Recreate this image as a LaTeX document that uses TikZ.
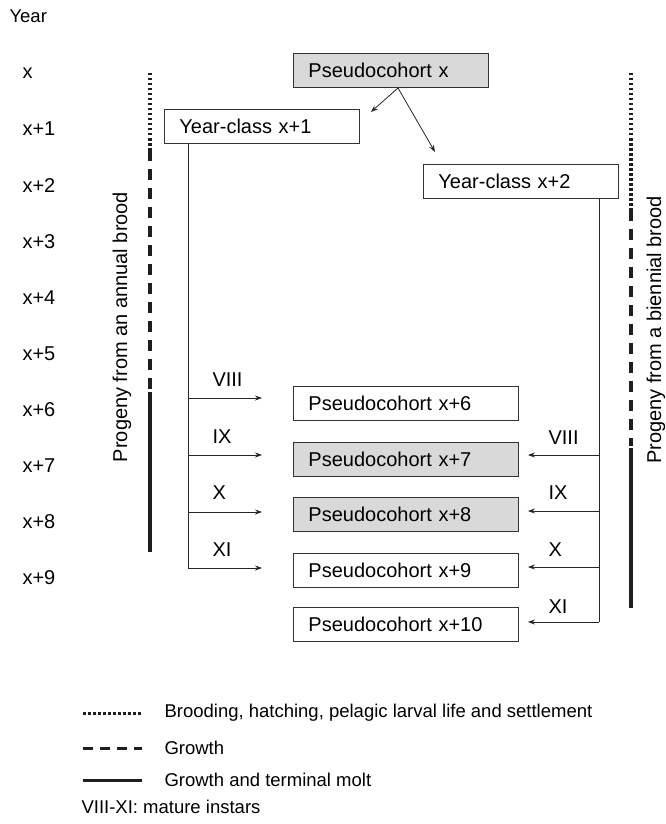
\documentclass[tikz,border=0pt]{standalone}
\usepackage{fontspec}
\setmainfont{Liberation Sans}
\usetikzlibrary{arrows.meta}
\colorlet{boxGray}{black!15}
\colorlet{lineDark}{black!88}

\begin{document}
\begin{tikzpicture}[x=1pt, y=-1pt, font=\fontsize{20}{24}\selectfont,
    narrowbox/.style={draw=black!80, line width=0.9pt, minimum height=34pt,
      inner xsep=15pt, text width=165pt, align=left, anchor=north west},
    widebox/.style={narrowbox, text width=195pt},
    link/.style={line width=0.8pt, draw=black!85, -{Stealth[length=7pt, width=5pt]}},
    stem/.style={line width=0.9pt, draw=black!85},
    brood/.style={line width=3.5pt, draw=lineDark},
    larva/.style={brood, dash pattern=on 2.5pt off 2.5pt},
    growth/.style={brood, dash pattern=on 11pt off 8pt},
    keyfont/.style={font=\fontsize{18.5}{22}\selectfont},
  ]
  \useasboundingbox (0,0) rectangle (665,824);

  % years
  \node[anchor=west, keyfont] (year) at (6,16) {Year};
  \foreach \k/\lab in {0/x, 1/x+1, 2/x+2, 3/x+3, 4/x+4, 5/x+5, 6/x+6, 7/x+7, 8/x+8, 9/x+9}
    \node[anchor=west] (y\k) at (19,{73+56.1*\k}) {\lab};

  % boxes
  \node[narrowbox, fill=boxGray] (pcx) at (293,53) {Pseudocohort x};
  \node[narrowbox] (yc1) at (164,109) {Year-class x+1};
  \node[narrowbox] (yc2) at (423,164) {Year-class x+2};
  \node[widebox] (pc6) at (293,386) {Pseudocohort x+6};
  \node[widebox, fill=boxGray] (pc7) at (293,442) {Pseudocohort x+7};
  \node[widebox, fill=boxGray] (pc8) at (293,497) {Pseudocohort x+8};
  \node[widebox] (pc9) at (293,553) {Pseudocohort x+9};
  \node[widebox] (pc10) at (293,607) {Pseudocohort x+10};

  % from pseudocohort x
  \coordinate (split) at (398,88);
  \draw[link] (split) -- ([shift={(11,3)}]yc1.north east);
  \draw[link] (split) -- ([shift={(12,-12)}]yc2.north west);

  % annual brood
  \coordinate (la6) at (188,398);
  \coordinate (la7) at (188,455);
  \coordinate (la8) at (188,512);
  \coordinate (la9) at (188,568);
  \draw[stem] (yc1.south -| la9) -- (la9);
  \draw[link] (la6) -- ([xshift=-31pt]pc6.west |- la6);
  \draw[link] (la7) -- ([xshift=-31pt]pc7.west |- la7);
  \draw[link] (la8) -- ([xshift=-31pt]pc8.west |- la8);
  \draw[link] (la9) -- ([xshift=-31pt]pc9.west |- la9);
  \node[anchor=west] (li8) at (209,380) {VIII};
  \node[anchor=west] (li9) at (209,437) {IX};
  \node[anchor=west] (li10) at (209,493) {X};
  \node[anchor=west] (li11) at (209,550) {XI};

  % biennial brood
  \coordinate (ra7) at (599,455);
  \coordinate (ra8) at (599,511);
  \coordinate (ra9) at (599,567);
  \coordinate (ra10) at (599,622);
  \draw[stem] (yc2.south -| ra10) -- (ra10);
  \draw[link] (ra7) -- ([xshift=9pt]pc7.east |- ra7);
  \draw[link] (ra8) -- ([xshift=9pt]pc8.east |- ra8);
  \draw[link] (ra9) -- ([xshift=9pt]pc9.east |- ra9);
  \draw[link] (ra10) -- ([xshift=9pt]pc10.east |- ra10);
  \node[anchor=west] (ri8) at (545,438) {VIII};
  \node[anchor=west] (ri9) at (545,493) {IX};
  \node[anchor=west] (ri10) at (545,550) {X};
  \node[anchor=west] (ri11) at (545,607) {XI};

  % life stages
  \draw[larva] (150,73) -- (150,150);
  \draw[growth] (150,150) -- (150,390);
  \draw[brood] (150,392) -- (150,552);
  \node[rotate=90] (annual) at (122,327) {Progeny from an annual brood};
  \draw[larva] (631,73) -- (631,210);
  \draw[growth] (631,210) -- (631,446);
  \draw[brood] (631,448) -- (631,608);
  \node[rotate=90] (biennial) at (656,330) {Progeny from a biennial brood};

  % legend
  \draw[larva, line width=3pt] (83,713) -- (142,713);
  \node[anchor=west, keyfont] (key1) at (161,713) {Brooding, hatching, pelagic larval life and settlement};
  \draw[growth, line width=3pt, dash pattern=on 10pt off 7pt] (83,748) -- (142,748);
  \node[anchor=west, keyfont] (key2) at (161,748) {Growth};
  \draw[brood, line width=3pt] (83,780) -- (142,780);
  \node[anchor=west, keyfont] (key3) at (161,780) {Growth and terminal molt};
  \node[anchor=west, keyfont] (key4) at (78,807) {VIII-XI: mature instars};
\end{tikzpicture}
\end{document}
